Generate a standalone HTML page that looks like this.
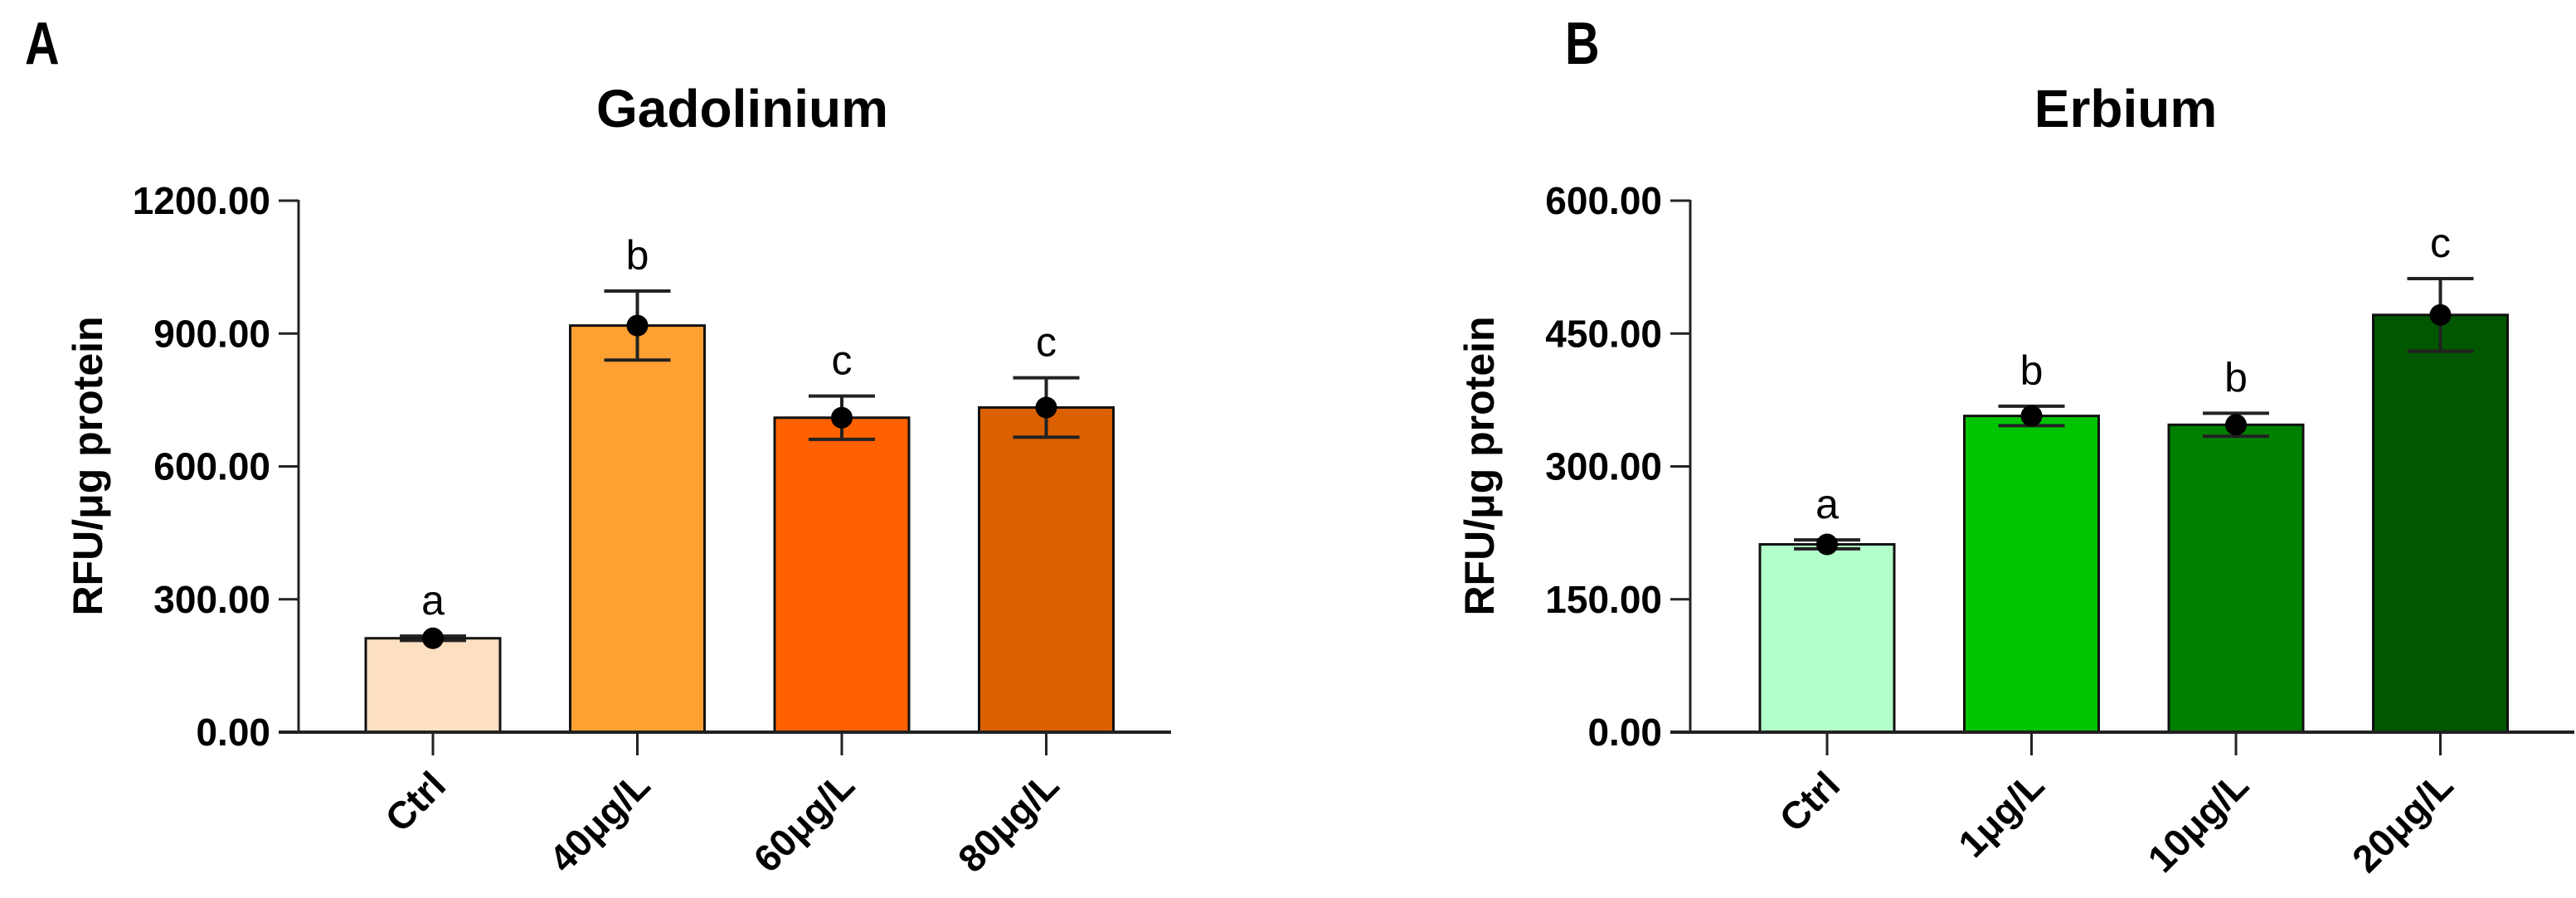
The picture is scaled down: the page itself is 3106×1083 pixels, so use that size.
<!DOCTYPE html>
<html><head><meta charset="utf-8">
<style>
html,body{margin:0;padding:0;background:#fff;}
svg{display:block;font-family:"Liberation Sans",sans-serif;}
</style></head>
<body>
<svg id="fig" width="3106" height="1083" viewBox="0 0 3106 1083" xmlns="http://www.w3.org/2000/svg">
<text x="30" y="77" font-size="72" font-weight="bold" transform="translate(30,0) scale(0.8,1) translate(-30,0)">A</text>
<text x="1887" y="77" font-size="72" font-weight="bold" transform="translate(1887,0) scale(0.8,1) translate(-1887,0)">B</text>
<g id="chartA"></g>
<g id="chartB"></g>
</svg>
<script>
const catsA = ["Ctrl","40\u03bcg/L","60\u03bcg/L","80\u03bcg/L"];
const meansA = [212, 918, 710, 733];
const errsA = [5, 78, 49, 67];
const lettersA = ["a","b","c","c"];
const ticksA = [0, 300, 600, 900, 1200];
const tickLabelsA = ["0.00","300.00","600.00","900.00","1200.00"];
const colorsA = ["#FDE0C2","#FFA033","#FF6100","#DB6000"];

const catsB = ["Ctrl","1\u03bcg/L","10\u03bcg/L","20\u03bcg/L"];
const meansB = [212, 357, 347, 471];
const errsB = [5, 11, 13, 41];
const lettersB = ["a","b","b","c"];
const ticksB = [0, 150, 300, 450, 600];
const tickLabelsB = ["0.00","150.00","300.00","450.00","600.00"];
const colorsB = ["#B3FFCB","#00C400","#008000","#005700"];

const NS = "http://www.w3.org/2000/svg";
function mk(parent, tag, attrs, text){
  const e = document.createElementNS(NS, tag);
  for (const k in attrs) e.setAttribute(k, attrs[k]);
  if (text !== undefined) e.textContent = text;
  parent.appendChild(e);
  return e;
}
function draw(g, cfg){
  const top = 242, bottom = 883, ax = cfg.ax, axEnd = cfg.axEnd;
  const ymax = cfg.ticks[cfg.ticks.length-1];
  const y = v => bottom - v / ymax * (bottom - top);
  const x = i => cfg.x0 + i * 246.5;
  const t = mk(g, "text", {x: cfg.titleX, y: 153, "font-size": 64, "font-weight": "bold", "text-anchor": "middle"}, cfg.title);
  
  
  const yt = mk(g, "text", {x: 0, y: 0, "font-size": 50, "font-weight": "bold", "text-anchor": "middle", transform: "translate(" + (ax - 237) + ",562) rotate(-90)"}, "RFU/\u03bcg protein");
  
  
  cfg.ticks.forEach((v, i) => {
    const tk = mk(g, "line", {x1: ax - 24, x2: ax, y1: y(v), y2: y(v), stroke: "#222", "stroke-width": 3});
    
    
    const tl = mk(g, "text", {x: ax - 34, y: y(v) + 16, "font-size": 46, "font-weight": "bold", "text-anchor": "end"}, cfg.tickLabels[i]);
    
    
  });
  cfg.cats.forEach((c, i) => {
    const cx = x(i), w = 162, m = cfg.means[i], e = cfg.errs[i];
    const b = mk(g, "rect", {x: cx - w/2, y: y(m), width: w, height: bottom - y(m), fill: cfg.colors[i], stroke: "#111", "stroke-width": 3});
    
    
    const eb = mk(g, "path", {d: "M" + cx + " " + y(m+e) + "V" + y(m-e) + "M" + (cx-40) + " " + y(m+e) + "H" + (cx+40) + "M" + (cx-40) + " " + y(m-e) + "H" + (cx+40), stroke: "#222", "stroke-width": 4, fill: "none"});
    
    
    const d = mk(g, "circle", {cx: cx, cy: y(m), r: 13, fill: "#000"});
    
    
    const lt = mk(g, "text", {x: cx, y: y(m+e) - 26, "font-size": 50, "text-anchor": "middle"}, cfg.letters[i]);
    
    
    const xt = mk(g, "line", {x1: cx, x2: cx, y1: bottom, y2: bottom + 28, stroke: "#222", "stroke-width": 3});
    
    
    const xl = mk(g, "text", {x: 0, y: 0, "font-size": 46, "font-weight": "bold", "text-anchor": "end", transform: "translate(" + (cx + 18) + ",950) rotate(-45)"}, c);
    
    
  });
  const ya = mk(g, "line", {x1: ax, x2: ax, y1: top - 1, y2: bottom, stroke: "#222", "stroke-width": 3});
  
  
  const xa = mk(g, "line", {x1: ax - 24, x2: axEnd, y1: bottom, y2: bottom, stroke: "#222", "stroke-width": 4});
  
  
}
draw(document.getElementById("chartA"), {title: "Gadolinium", titleX: 895, ax: 360, axEnd: 1412, x0: 522, cats: catsA, means: meansA, errs: errsA, letters: lettersA, ticks: ticksA, tickLabels: tickLabelsA, colors: colorsA});
draw(document.getElementById("chartB"), {title: "Erbium", titleX: 2563, ax: 2038, axEnd: 3104, x0: 2203, cats: catsB, means: meansB, errs: errsB, letters: lettersB, ticks: ticksB, tickLabels: tickLabelsB, colors: colorsB});
</script>
</body></html>
